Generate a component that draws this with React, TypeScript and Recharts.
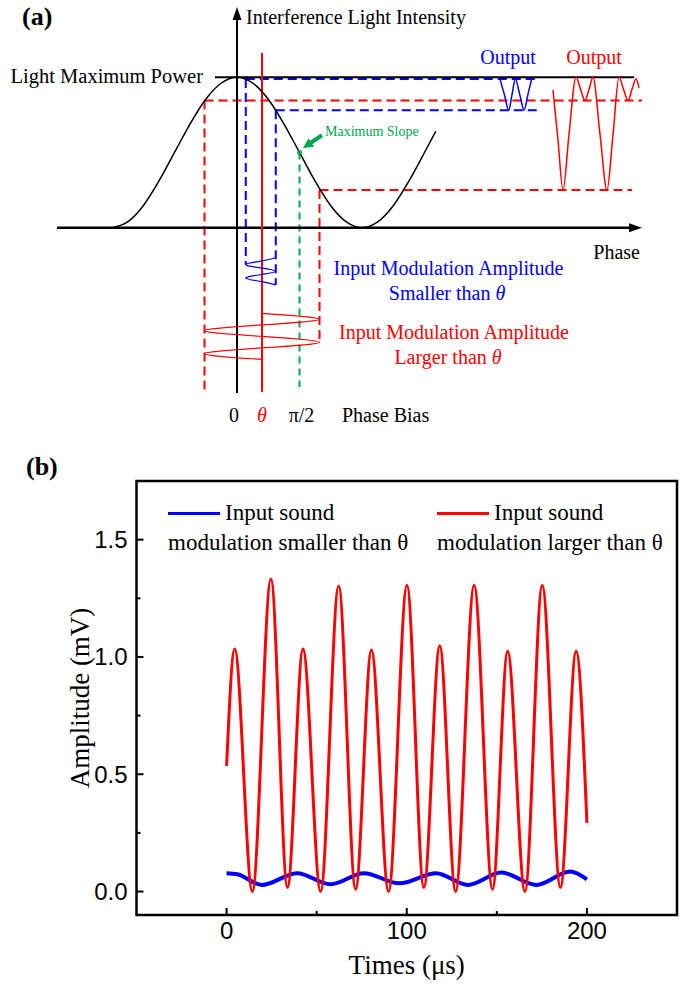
import React from 'react';
import {
  ComposedChart, LineChart, Line, XAxis, YAxis, ReferenceLine, ReferenceDot,
  ReferenceArea, Legend, Label
} from 'recharts';

const SERIF = '"Liberation Serif", "Times New Roman", serif';
const SANS = '"Liberation Sans", Arial, sans-serif';
const RED = '#ff0000';
const BLUE = '#0000ff';
const GREEN = '#00a651';

// ---------- panel (a): phase in units of pi, level = normalised light intensity ----------
const transferCurve = [
  { phase: -1, level: 0 }, { phase: -0.875, level: 0.038 }, { phase: -0.75, level: 0.146 },
  { phase: -0.625, level: 0.309 }, { phase: -0.5, level: 0.5 }, { phase: -0.375, level: 0.691 },
  { phase: -0.25, level: 0.854 }, { phase: -0.125, level: 0.962 }, { phase: 0, level: 1 },
  { phase: 0.125, level: 0.962 }, { phase: 0.25, level: 0.854 }, { phase: 0.375, level: 0.691 },
  { phase: 0.5, level: 0.5 }, { phase: 0.625, level: 0.309 }, { phase: 0.75, level: 0.146 },
  { phase: 0.875, level: 0.038 }, { phase: 1, level: 0 }, { phase: 1.125, level: 0.038 },
  { phase: 1.25, level: 0.146 }, { phase: 1.375, level: 0.309 }, { phase: 1.5, level: 0.5 },
  { phase: 1.59, level: 0.64 },
];

const biasPhase = 0.2;       // theta
const slopePhase = 0.5;      // pi/2
const smallSwing = [0.07, 0.31];
const smallSwingLevel = [0.988, 0.781];
const largeSwing = [-0.26, 0.66];
const largeSwingLevel = [0.845, 0.25];

const smallOutput = [
  { phase: 2.104, level: 0.988 }, { phase: 2.139, level: 0.885 }, { phase: 2.174, level: 0.781 },
  { phase: 2.2, level: 0.885 }, { phase: 2.227, level: 0.988 }, { phase: 2.262, level: 0.885 },
  { phase: 2.297, level: 0.781 }, { phase: 2.327, level: 0.885 }, { phase: 2.357, level: 0.988 },
];

const largeOutput = [
  { phase: 2.528, level: 0.915 }, { phase: 2.568, level: 0.58 }, { phase: 2.608, level: 0.25 },
  { phase: 2.656, level: 0.62 }, { phase: 2.712, level: 1 }, { phase: 2.748, level: 0.92 },
  { phase: 2.784, level: 0.845 }, { phase: 2.816, level: 0.92 }, { phase: 2.848, level: 1 },
  { phase: 2.904, level: 0.62 }, { phase: 2.96, level: 0.25 }, { phase: 3.008, level: 0.62 },
  { phase: 3.056, level: 1 }, { phase: 3.092, level: 0.92 }, { phase: 3.128, level: 0.845 },
  { phase: 3.16, level: 0.92 }, { phase: 3.192, level: 0.99 }, { phase: 3.216, level: 0.93 },
];

const smallInput = [
  { phase: 0.31, level: -0.2 }, { phase: 0.19, level: -0.2225 }, { phase: 0.07, level: -0.245 },
  { phase: 0.19, level: -0.2675 }, { phase: 0.31, level: -0.29 }, { phase: 0.19, level: -0.3125 },
  { phase: 0.07, level: -0.335 }, { phase: 0.19, level: -0.3575 }, { phase: 0.31, level: -0.38 },
];

const largeInput = [
  { phase: 0.2, level: -0.57 }, { phase: 0.66, level: -0.609 }, { phase: 0.2, level: -0.647 },
  { phase: -0.26, level: -0.685 }, { phase: 0.2, level: -0.723 }, { phase: 0.66, level: -0.762 },
  { phase: 0.2, level: -0.8 }, { phase: -0.26, level: -0.838 }, { phase: 0.2, level: -0.876 },
];

const axisBottom = -1.099;
const axisTop = 1.434;
const phaseAxisStart = -1.44;
const phaseAxisEnd = 3.16;

// ---------- panel (b): measured output ----------
const redTime = [0, 4.5, 14.3, 24.6, 33.8, 42.4, 52.2, 62.2, 71.6, 80.4, 89.9, 100.1, 109.5, 118.3, 127.1, 137.4, 147.6, 156, 165.6, 175.2, 185.3, 194, 200];
const redAmp = [0.535, 1.034, 0, 1.332, 0.017, 1.034, 0, 1.302, 0.01, 1.03, 0, 1.306, 0.017, 1.048, 0, 1.306, 0.01, 1.024, 0, 1.306, 0.017, 1.024, 0.292];
const blueTime = [0, 5.9, 19.5, 39.1, 57.7, 76.2, 95.8, 116.3, 133.9, 152.5, 172, 190.6, 200];
const blueAmp = [0.078, 0.074, 0.028, 0.078, 0.031, 0.078, 0.035, 0.078, 0.028, 0.081, 0.028, 0.085, 0.052];
const xTicks = [0, 50, 100, 150, 200];
const xLabelled = [0, 100, 200];
const yTicks = [0, 0.25, 0.5, 0.75, 1, 1.25, 1.5];
const yLabelled = [0, 0.5, 1, 1.5];
const seriesNames = ['Input sound\nmodulation smaller than θ', 'Input sound\nmodulation larger than θ'];

const blueSeries = blueTime.map((t, i) => ({ t, v: blueAmp[i] }));
const redSeries = redTime.map((t, i) => ({ t, v: redAmp[i] }));

const note = (text: React.ReactNode, opts: { color?: string; size?: number; anchor?: string } = {}) =>
  (p: any) => (
    <text x={p.cx} y={p.cy} fill={opts.color || '#000'} fontSize={opts.size || 20}
      textAnchor={opts.anchor || 'middle'} fontFamily={SERIF}>{text}</text>
  );

const upArrow = (p: any) => (
  <polygon points={`${p.cx},${p.cy} ${p.cx - 4.5},${p.cy + 13} ${p.cx + 4.5},${p.cy + 13}`} fill="#000" />
);
const rightArrow = (p: any) => (
  <polygon points={`${p.cx},${p.cy} ${p.cx - 13},${p.cy - 4.5} ${p.cx - 13},${p.cy + 4.5}`} fill="#000" />
);
const slopeArrow = (p: any) => (
  <g>
    <line x1={p.cx + 7} y1={p.cy - 4.7} x2={p.cx + 19} y2={p.cy - 12.7} stroke={GREEN} strokeWidth={4} />
    <polygon points={`${p.cx},${p.cy} ${p.cx + 11.1},${p.cy - 1.3} ${p.cx + 5.5},${p.cy - 9.7}`} fill={GREEN} />
  </g>
);

const theta = <tspan fontStyle="italic">θ</tspan>;

const X_GAP = 10;
const Y_GAP = 10;

const XTick = (props: any) => {
  const { x, y, payload } = props;
  const axisY = y - X_GAP;
  const major = xLabelled.includes(payload.value);
  return (
    <g>
      <line x1={x} x2={x} y1={axisY} y2={axisY - (major ? 7 : 4)} stroke="#000" strokeWidth={2} />
      {major && (
        <text x={x} y={axisY + 24} textAnchor="middle" fontSize={24} fontFamily={SANS} fill="#000">
          {payload.value}
        </text>
      )}
    </g>
  );
};

const YTick = (props: any) => {
  const { x, y, payload } = props;
  const axisX = x + Y_GAP;
  const major = yLabelled.includes(payload.value);
  return (
    <g>
      <line x1={axisX} x2={axisX + (major ? 7 : 4)} y1={y} y2={y} stroke="#000" strokeWidth={2} />
      {major && (
        <text x={axisX - 9} y={y} dy="0.35em" textAnchor="end" fontSize={24} fontFamily={SANS} fill="#000">
          {payload.value.toFixed(1)}
        </text>
      )}
    </g>
  );
};

const renderLegend = (props: any) => {
  const items = [...(props.payload || [])].sort(
    (a: any, b: any) => seriesNames.indexOf(a.value) - seriesNames.indexOf(b.value)
  );
  return (
    <div style={{ position: 'relative', width: 500, height: 60, fontFamily: SERIF, fontSize: 23, color: '#000' }}>
      {items.map((entry: any, i: number) => {
        const [first, second] = String(entry.value).split('\n');
        const left = i * 269;
        return (
          <div key={i}>
            <div style={{ position: 'absolute', left, top: 11.5, width: 52, height: 3, background: entry.color }} />
            <div style={{ position: 'absolute', left: left + 57, top: 0, lineHeight: '26px', whiteSpace: 'nowrap' }}>{first}</div>
            <div style={{ position: 'absolute', left, top: 30, lineHeight: '26px', whiteSpace: 'nowrap' }}>{second}</div>
          </div>
        );
      })}
    </div>
  );
};

const dash = '9 5';

const App = () => {
  return (
    <div style={{ position: 'absolute', left: 0, top: 0, width: 684, height: 997, background: '#fff', fontFamily: SERIF }}>
      <div style={{ position: 'absolute', left: 22, top: 2, fontSize: 26, fontWeight: 'bold', lineHeight: '30px' }}>(a)</div>
      <div style={{ position: 'absolute', left: 26, top: 452, fontSize: 26, fontWeight: 'bold', lineHeight: '30px' }}>(b)</div>

      <div style={{ position: 'absolute', left: 0, top: 0 }}>
        <ComposedChart width={684} height={440} margin={{ top: 0, right: 0, bottom: 0, left: 0 }}>
          <XAxis type="number" dataKey="phase" domain={[-1.896, 3.576]} hide allowDataOverflow />
          <YAxis type="number" domain={[-1.412, 1.514]} hide allowDataOverflow />

          {/* dashed guides */}
          <ReferenceLine segment={[{ x: largeSwing[0], y: largeSwingLevel[0] }, { x: 3.24, y: largeSwingLevel[0] }]} stroke={RED} strokeWidth={2} strokeDasharray={dash} />
          <ReferenceLine segment={[{ x: largeSwing[0], y: largeSwingLevel[0] }, { x: largeSwing[0], y: axisBottom }]} stroke={RED} strokeWidth={2} strokeDasharray={dash} />
          <ReferenceLine segment={[{ x: largeSwing[1], y: largeSwingLevel[1] }, { x: 3.16, y: largeSwingLevel[1] }]} stroke={RED} strokeWidth={2} strokeDasharray={dash} />
          <ReferenceLine segment={[{ x: largeSwing[1], y: largeSwingLevel[1] }, { x: largeSwing[1], y: largeInput[5].level }]} stroke={RED} strokeWidth={2} strokeDasharray={dash} />
          <ReferenceLine segment={[{ x: smallSwing[0], y: smallSwingLevel[0] }, { x: 2.416, y: smallSwingLevel[0] }]} stroke={BLUE} strokeWidth={2} strokeDasharray={dash} />
          <ReferenceLine segment={[{ x: smallSwing[0], y: smallSwingLevel[0] }, { x: smallSwing[0], y: smallInput[2].level }]} stroke={BLUE} strokeWidth={2} strokeDasharray={dash} />
          <ReferenceLine segment={[{ x: smallSwing[1], y: smallSwingLevel[1] }, { x: 2.4, y: smallSwingLevel[1] }]} stroke={BLUE} strokeWidth={2} strokeDasharray={dash} />
          <ReferenceLine segment={[{ x: smallSwing[1], y: smallSwingLevel[1] }, { x: smallSwing[1], y: smallInput[8].level }]} stroke={BLUE} strokeWidth={2} strokeDasharray={dash} />
          <ReferenceLine segment={[{ x: slopePhase, y: 0.5 }, { x: slopePhase, y: -1.059 }]} stroke={GREEN} strokeWidth={2} strokeDasharray="7 5" />

          {/* axes and maximum power */}
          <ReferenceLine segment={[{ x: 0, y: axisBottom }, { x: 0, y: axisTop }]} stroke="#000" strokeWidth={2} />
          <ReferenceLine segment={[{ x: phaseAxisStart, y: 0 }, { x: phaseAxisEnd, y: 0 }]} stroke="#000" strokeWidth={2.5} />
          <ReferenceLine segment={[{ x: -0.176, y: 1 }, { x: 3.176, y: 1 }]} stroke="#000" strokeWidth={2} />
          <ReferenceLine segment={[{ x: biasPhase, y: -1.093 }, { x: biasPhase, y: 1.161 }]} stroke={RED} strokeWidth={2} />
          <ReferenceDot x={0} y={1.467} shape={upArrow} ifOverflow="visible" />
          <ReferenceDot x={3.24} y={0} shape={rightArrow} ifOverflow="visible" />

          <Line data={transferCurve} dataKey="level" type="monotone" stroke="#000" strokeWidth={1.5} dot={false} activeDot={false} isAnimationActive={false} />
          <Line data={smallOutput} dataKey="level" type="monotone" stroke={BLUE} strokeWidth={1.5} dot={false} activeDot={false} isAnimationActive={false} />
          <Line data={largeOutput} dataKey="level" type="monotone" stroke={RED} strokeWidth={1.5} dot={false} activeDot={false} isAnimationActive={false} />
          <Line data={smallInput} dataKey="level" type="natural" stroke={BLUE} strokeWidth={1.2} dot={false} activeDot={false} isAnimationActive={false} />
          <Line data={largeInput} dataKey="level" type="natural" stroke={RED} strokeWidth={1.2} dot={false} activeDot={false} isAnimationActive={false} />

          <ReferenceDot x={slopePhase} y={0.5} r={2.5} fill={GREEN} stroke="none" />
          <ReferenceDot x={0.528} y={0.53} shape={slopeArrow} ifOverflow="visible" />

          {/* annotations */}
          <ReferenceDot x={0.072} y={1.354} shape={note('Interference Light Intensity', { anchor: 'start' })} ifOverflow="visible" />
          <ReferenceDot x={-0.272} y={0.962} shape={note('Light Maximum Power', { anchor: 'end', size: 20.5 })} ifOverflow="visible" />
          <ReferenceDot x={2.168} y={1.088} shape={note('Output', { color: BLUE })} ifOverflow="visible" />
          <ReferenceDot x={2.856} y={1.088} shape={note('Output', { color: RED })} ifOverflow="visible" />
          <ReferenceDot x={0.704} y={0.61} shape={note('Maximum Slope', { color: GREEN, size: 14, anchor: 'start' })} ifOverflow="visible" />
          <ReferenceDot x={3.224} y={-0.207} shape={note('Phase', { anchor: 'end' })} ifOverflow="visible" />
          <ReferenceDot x={1.692} y={-0.314} shape={note('Input Modulation Amplitude', { color: BLUE })} ifOverflow="visible" />
          <ReferenceDot x={1.68} y={-0.481} shape={note(<>Smaller than {theta}</>, { color: BLUE })} ifOverflow="visible" />
          <ReferenceDot x={1.736} y={-0.74} shape={note('Input Modulation Amplitude', { color: RED })} ifOverflow="visible" />
          <ReferenceDot x={1.688} y={-0.906} shape={note(<>Larger than {theta}</>, { color: RED })} ifOverflow="visible" />
          <ReferenceDot x={-0.024} y={-1.291} shape={note('0')} ifOverflow="visible" />
          <ReferenceDot x={biasPhase} y={-1.291} shape={note(theta, { color: RED })} ifOverflow="visible" />
          <ReferenceDot x={0.516} y={-1.291} shape={note('π/2')} ifOverflow="visible" />
          <ReferenceDot x={0.84} y={-1.291} shape={note('Phase Bias', { anchor: 'start' })} ifOverflow="visible" />
        </ComposedChart>
      </div>

      <div style={{ position: 'absolute', left: 0, top: 440 }}>
        <LineChart width={684} height={557} margin={{ top: 41, right: 7, bottom: 42, left: 76.5 }}>
          <XAxis type="number" dataKey="t" domain={[-50, 250]} ticks={xTicks} interval={0}
            tickSize={0} tickMargin={X_GAP} tick={<XTick />} axisLine={false} height={40} allowDataOverflow>
            <Label value="Times (μs)" position="bottom" offset={0}
              style={{ fontFamily: SERIF, fontSize: 27, fill: '#000' }} />
          </XAxis>
          <YAxis type="number" domain={[-0.1, 1.75]} ticks={yTicks} interval={0}
            tickSize={0} tickMargin={Y_GAP} tick={<YTick />} axisLine={false} width={60} allowDataOverflow>
            <Label value="Amplitude (mV)" angle={-90} position="insideLeft" offset={2.5}
              style={{ textAnchor: 'middle', fontFamily: SERIF, fontSize: 27, fill: '#000' }} />
          </YAxis>
          <ReferenceArea x1={-50} x2={250} y1={-0.1} y2={1.75} fill="none" stroke="#000" strokeWidth={2.5} ifOverflow="visible" />
          <Legend layout="vertical" align="center" verticalAlign="middle" content={renderLegend}
            wrapperStyle={{ left: 168, top: 60, width: 500, height: 60 }} />
          <Line data={blueSeries} dataKey="v" name={seriesNames[0]} type="monotone" stroke={BLUE}
            strokeWidth={4} dot={false} activeDot={false} isAnimationActive={false} />
          <Line data={redSeries} dataKey="v" name={seriesNames[1]} type="monotone" stroke={RED}
            strokeWidth={3} dot={false} activeDot={false} isAnimationActive={false} />
        </LineChart>
      </div>
    </div>
  );
};

export default App;
